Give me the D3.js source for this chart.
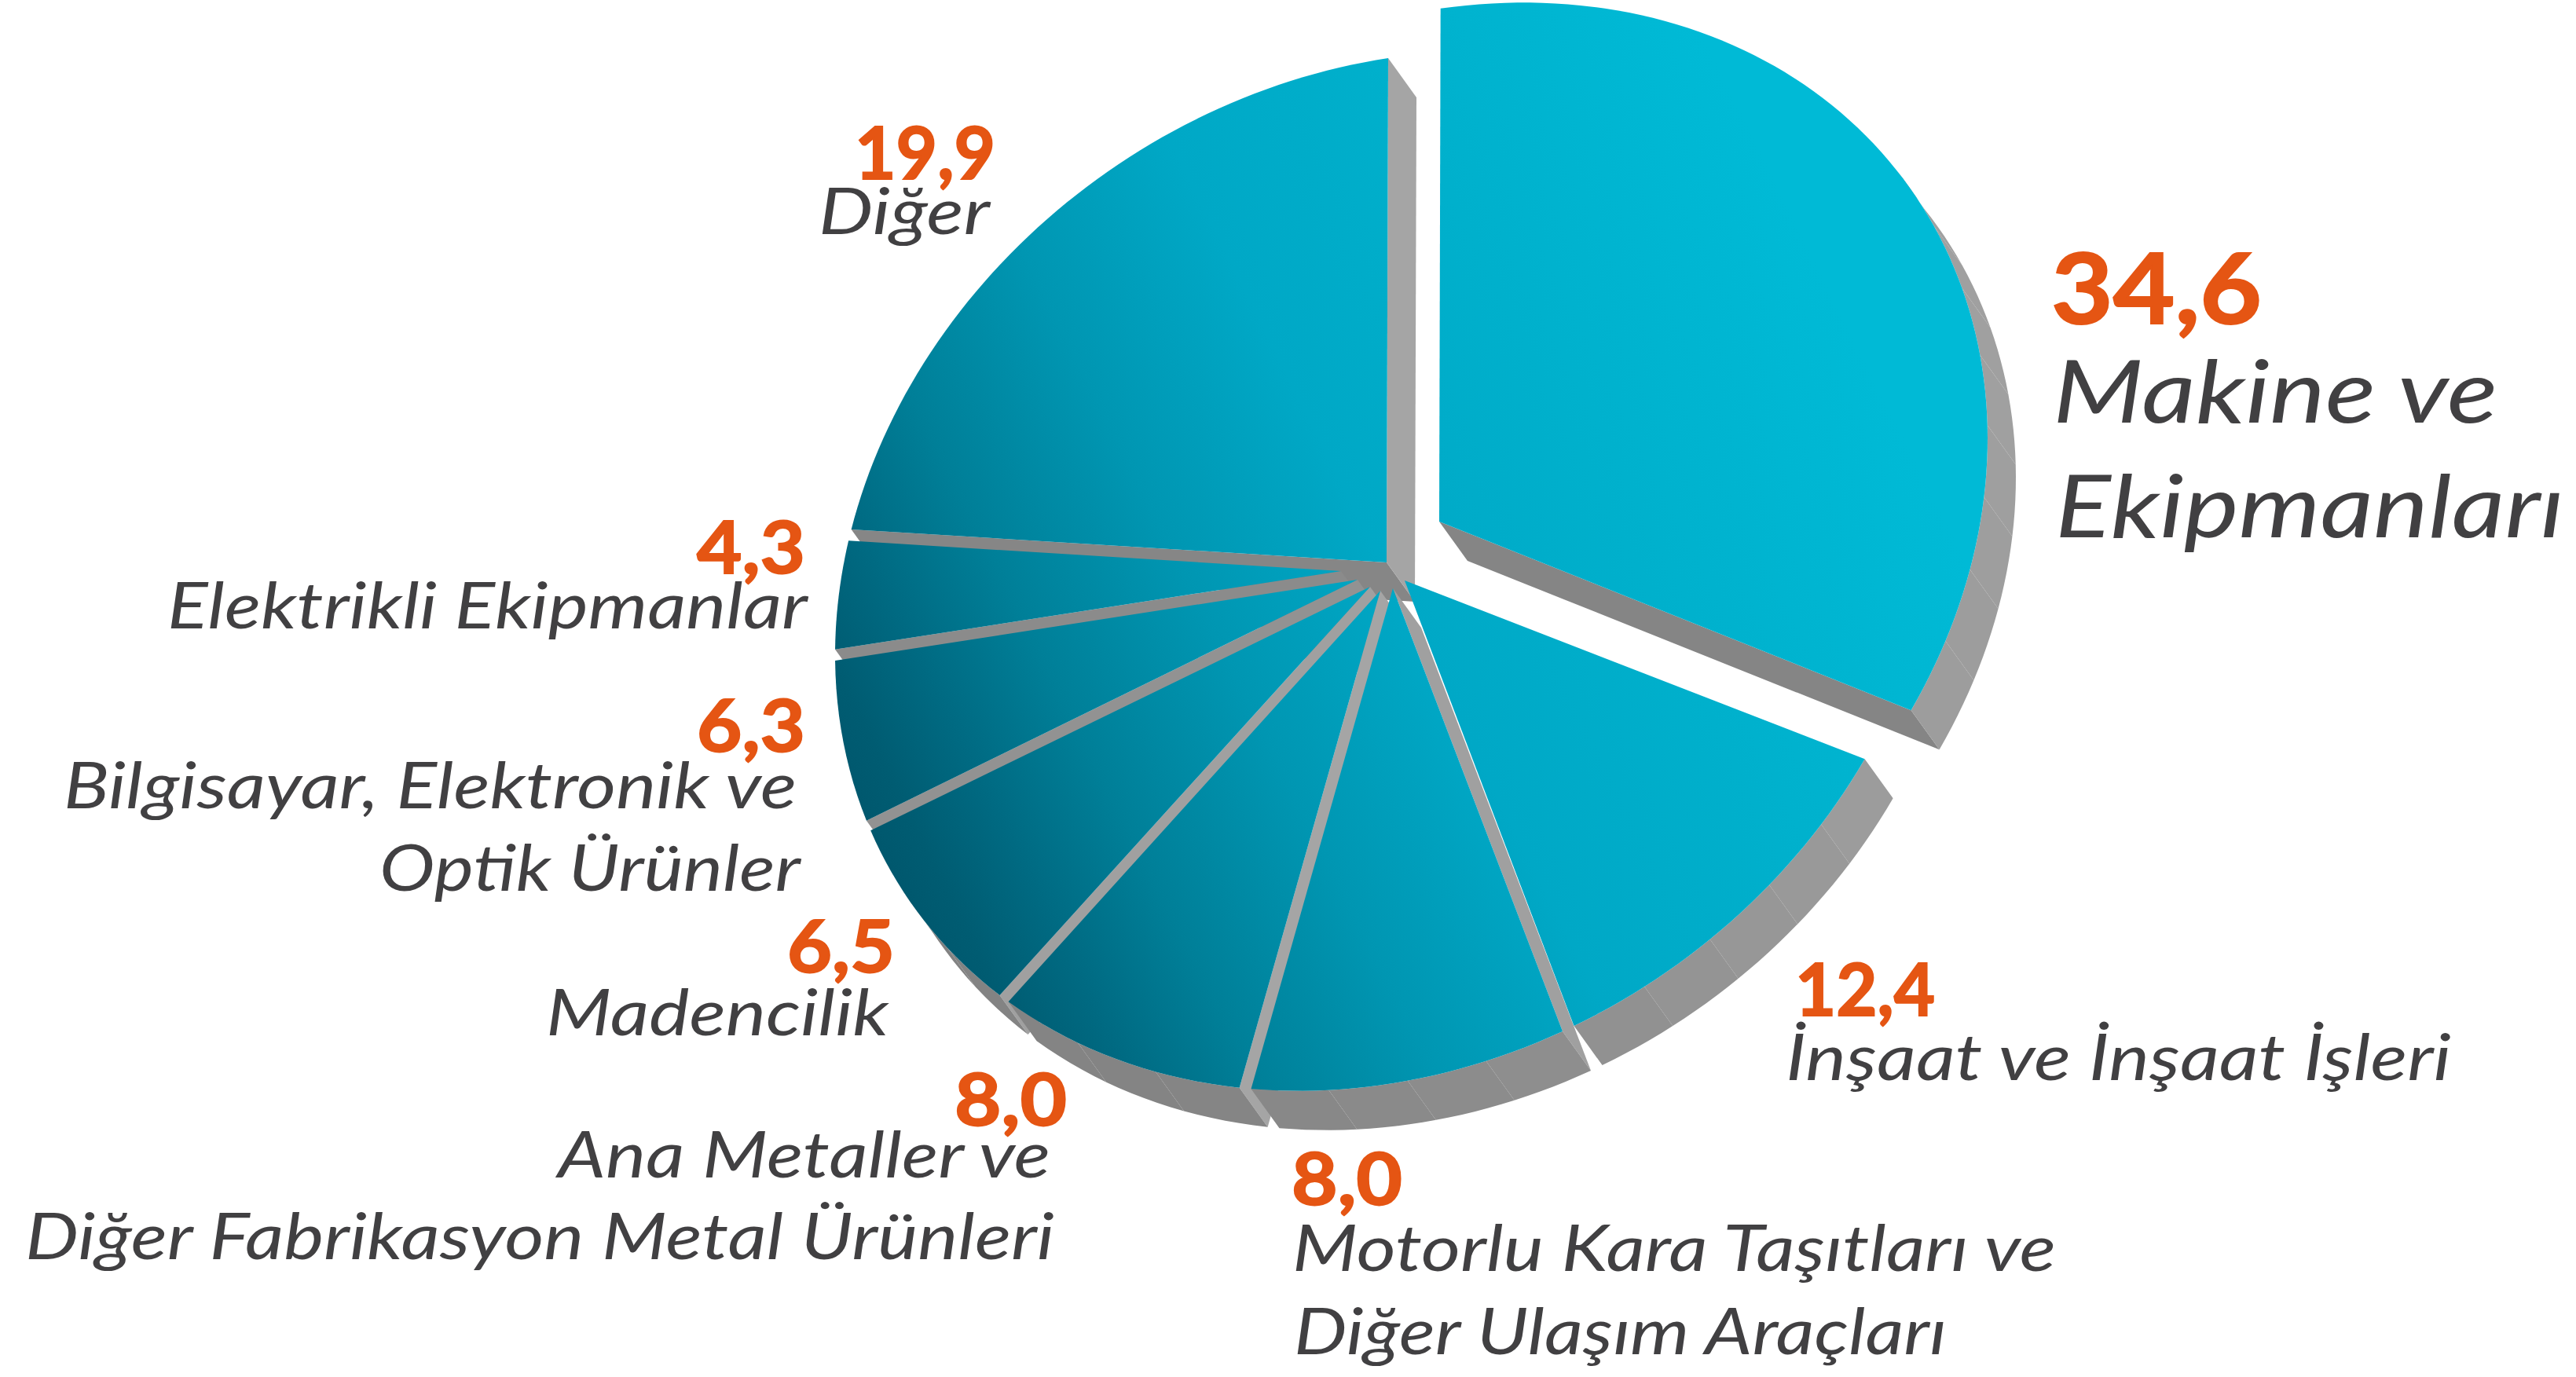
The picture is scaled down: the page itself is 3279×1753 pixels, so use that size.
<!DOCTYPE html>
<html><head><meta charset="utf-8">
<script src="https://cdn.jsdelivr.net/npm/d3@7/dist/d3.min.js"></script>
<style>html,body{margin:0;background:#fff}svg{display:block}
.val{font-family:Lato,sans-serif;font-weight:700;fill:#e55513;stroke:#e55513;stroke-width:2}
.cat{font-family:Lato,sans-serif;font-style:italic;font-weight:400;fill:#414042}</style>
</head><body><svg id="c" width="3279" height="1753"></svg>
<script>
// Data
const categories = [
  ["Makine ve","Ekipmanları"],
  ["İnşaat ve İnşaat İşleri"],
  ["Motorlu Kara Taşıtları ve","Diğer Ulaşım Araçları"],
  ["Ana Metaller ve","Diğer Fabrikasyon Metal Ürünleri"],
  ["Madencilik"],
  ["Bilgisayar, Elektronik ve","Optik Ürünler"],
  ["Elektrikli Ekipmanlar"],
  ["Diğer"]
];
const printedValues = ["34,6","12,4","8,0","8,0","6,5","6,3","4,3","19,9"];
// Share of the circle each slice occupies as drawn in the picture
const drawnShares = [33.47,11.25,9.44,8.06,7.22,5.56,3.69,21.31];

// Layout
const W=3279,H=1753;
const mainCentre=[1767,727], bigCentre=[1826,665];
const apexes=[[1832,664],[1788,739],[1773,749],[1757,752],[1744,747],[1728,738],[1707,727],[1765,716]];
const depth=[36,50];
const rim={ux:704,uy:-107,vy:653};
const gapDeg=1.25, facetDeg=8;
// [x0,x1,baseline,size]
const valueBoxes=[[2611,2879,412,124],[2285,2463,1293,92],[1644,1785,1534,92],[1215,1358,1433,92],[1002,1139,1238,92],[887,1025,957,92],[887,1025,730,92],[1088,1267,228,92]];
const catBoxes=[
  [[2613,3179,538,111],[2616,3264,684,111]],
  [[2273,3120,1375,82]],
  [[1645,2617,1618,82],[1647,2478,1724,82]],
  [[710,1337,1499,82],[32,1342,1603,82]],
  [[695,1131,1318,82]],
  [[81,1014,1029,82],[483,1019,1134,82]],
  [[213,1028,800,82]],
  [[1042,1260,298,82]]
];

const svg=d3.select("#c");
const defs=svg.append("defs");
const grad=defs.append("linearGradient").attr("id","top").attr("gradientUnits","userSpaceOnUse")
  .attr("x1",1100).attr("y1",1150).attr("x2",2396).attr("y2",502);
[[0,"#00546a"],[0.07,"#005c72"],[0.14,"#006a82"],[0.236,"#007f98"],[0.38,"#0096b2"],[0.54,"#00a8c6"],[0.74,"#00b0cc"],[1,"#00bad6"]]
  .forEach(s=>grad.append("stop").attr("offset",s[0]).attr("stop-color",s[1]));

const rad=Math.PI/180, gap=gapDeg*rad;
const rimPoint=(c,a)=>[c[0]+rim.ux*Math.sin(a), c[1]+rim.uy*Math.sin(a)-rim.vy*Math.cos(a)];
const closed=d3.line().curve(d3.curveLinearClosed);
const shift=p=>[p[0]+depth[0],p[1]+depth[1]];
const rimShade=d3.scaleLinear().domain([0,80,125,165,200,240,360]).range(["#a2a2a2","#a0a0a0","#9c9c9c","#8e8e8e","#858585","#828282","#828282"]);
const sideShade=d3.scaleLinear().domain([120,161,195,224,250,270,283,360]).range(["#858585","#a0a0a0","#a5a5a5","#a0a0a0","#929292","#8b8b8b","#868686","#a5a5a5"]);
const visible=(a,b)=>((b[1]-a[1])*depth[0]-(b[0]-a[0])*depth[1])>0;

const arcs=d3.pie().sort(null).value(d=>d)(drawnShares);
const n=arcs.length;
const slices=arcs.map((d,i)=>{
  let a0=d.startAngle+gap/2, a1=d.endAngle-gap/2;
  if(i===1) a0=d.startAngle;
  if(i===0) a1=d.endAngle;
  if(i===n-1) a1=d.endAngle;
  return {i,a0,a1,apex:apexes[i],centre:i===0?bigCentre:mainCentre,start:d.startAngle,end:d.endAngle};
});

const order=[7,6,5,4,3,2,1,0];
order.forEach(k=>{
  const s=slices[k];
  const g=svg.append("g").attr("class","slice").attr("data-cat",categories[k].join(" "));
  const nF=Math.max(1,Math.round((s.a1-s.a0)/(facetDeg*rad)));
  const steps=d3.range(nF*6+1).map(t=>s.a0+(s.a1-s.a0)*t/(nF*6));
  const rimPts=steps.map(a=>rimPoint(s.centre,a));
  // side walls
  const first=rimPts[0], last=rimPts[rimPts.length-1];
  [[s.apex,first,s.start/rad],[last,s.apex,s.end/rad]].forEach(e=>{
    if(visible(e[0],e[1])) g.append("path").attr("d",closed([e[0],e[1],shift(e[1]),shift(e[0])])).attr("fill",sideShade(e[2]));
  });
  // outer wall, in facets
  for(let f=0;f<nF;f++){
    const pts=rimPts.slice(f*6,f*6+7);
    if(!visible(pts[0],pts[6])) continue;
    const mid=(steps[f*6]+steps[f*6+6])/2/rad;
    g.append("path").attr("d",closed(pts.concat(pts.map(shift).reverse()))).attr("fill",rimShade(mid));
  }
  // top face
  g.append("path").attr("d",closed([s.apex].concat(rimPts))).attr("fill","url(#top)");
});

const text=(cls,str,b)=>svg.append("text").attr("class",cls).attr("x",b[0]).attr("y",b[2])
  .attr("font-size",b[3]).attr("textLength",b[1]-b[0]).attr("lengthAdjust","spacingAndGlyphs").text(str);
printedValues.forEach((v,i)=>{
  text("val",v,valueBoxes[i]);
  categories[i].forEach((l,j)=>text("cat",l,catBoxes[i][j]));
});
</script></body></html>
